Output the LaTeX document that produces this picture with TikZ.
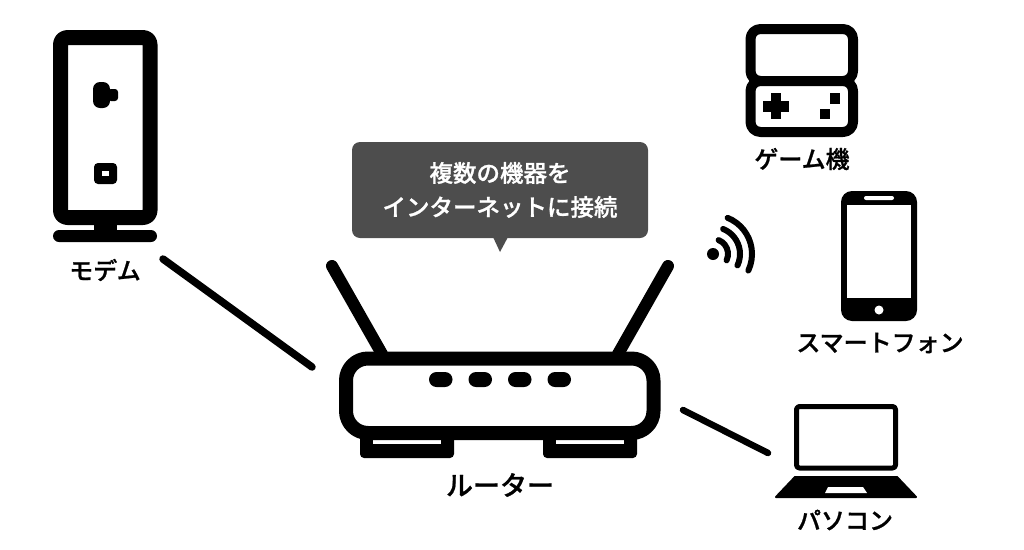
\documentclass[tikz,border=0pt]{standalone}
\usepackage{fontspec}
\newfontfamily\jp[FakeBold=0.9]{Noto Sans CJK JP Medium}
\tikzset{
  lbl/.style={font=\jp\fontsize{24}{24}\selectfont, text=black, inner sep=0pt, anchor=center},
  bub/.style={font=\jp\fontsize{23.5}{24}\selectfont, text=white, inner sep=0pt, anchor=center},
  conn/.style={line width=7.5pt, line cap=round},
  antenna/.style={line width=12pt, line cap=round},
  outline/.style={draw=black, fill=white, line join=round},
  wave/.style={line width=6pt, line cap=round}
}
\definecolor{bubblegray}{HTML}{4D4D4D}
\begin{document}
\begin{tikzpicture}[x=1pt,y=-1pt]
\useasboundingbox (0,0) rectangle (1024,549);
% Modem
\fill[rounded corners=6pt] (53,230) rectangle (157,242);
\fill (94,222) rectangle (117,232);
\draw[outline, line width=15pt, rounded corners=7pt] (60.5,37.5) rectangle (150,217.5);
\fill[rounded corners=3pt] (108,89) rectangle (118,101);
\fill[rounded corners=7pt] (93,82) rectangle (110,108);
\fill[rounded corners=4pt] (94,163) rectangle (117,184);
\fill[white] (102,171) rectangle (109,176);
\node[lbl] (modem) at (105,270) {モデム};
% Router
\draw[antenna] (332,266) -- (382,354);
\draw[antenna] (668,266) -- (618,354);
\foreach \a/\b in {360/454,543/637}{
  \fill[rounded corners=4pt] (\a,430) rectangle (\b,458);
}
\fill[white] (373,440) rectangle (441,444);
\fill[white] (556,440) rectangle (624,444);
\draw[outline, line width=14pt, rounded corners=22pt] (346,358.5) rectangle (653.5,433);
\foreach \a in {429,468.5,508,547.5}{
  \fill[rounded corners=7.5pt] (\a,372) rectangle (\a+23.5,387);
}
\node[lbl, font=\jp\fontsize{27}{27}\selectfont] (router) at (500,485) {ルーター};
% Connectors
\coordinate (modemEnd) at (163,259);
\coordinate (routerL) at (312,367);
\coordinate (routerR) at (683,410);
\coordinate (pcEnd) at (768,453);
\draw[conn] (modemEnd) -- (routerL);
\draw[conn, line width=6.5pt] (routerR) -- (pcEnd);
% Bubble
\fill[bubblegray, rounded corners=8pt] (352,142) rectangle (648,238);
\fill[bubblegray] (493,237) -- (508,237) -- (500,252) -- cycle;
\node[bub] (b1) at (500,173) {複数の機器を};
\node[bub] (b2) at (500,207) {インターネットに接続};
% Game
\draw[outline, line width=10pt, rounded corners=10pt] (750.5,29) rectangle (853,81);
\draw[outline, line width=10pt, rounded corners=10pt] (750.5,81) rectangle (853,132);
\fill (771,93) rectangle (781,119);
\fill (763,101) rectangle (789,112);
\fill (830,93) rectangle (840,104);
\fill (820,109) rectangle (830,119);
\node[lbl] (game) at (802,159) {ゲーム機};
% Phone
\fill[rounded corners=11pt] (841,191) rectangle (917,321);
\fill[white] (847,205) rectangle (911,298);
\fill[white, rounded corners=2pt] (864,196) rectangle (894,200);
\fill[white] (879,310) circle[radius=4.5pt];
\node[lbl] (phone) at (880,343) {スマートフォン};
% Wifi
\fill (713,254) circle[radius=6pt];
\draw[wave, x=1pt,y=1pt] (713,-254) ++(68:15) arc[start angle=68, end angle=-25, radius=15];
\draw[wave, x=1pt,y=1pt] (713,-254) ++(68:27) arc[start angle=68, end angle=-25, radius=27];
\draw[wave, x=1pt,y=1pt] (713,-254) ++(68:39) arc[start angle=68, end angle=-25, radius=39];
% Laptop
\draw[outline, line width=5pt, rounded corners=3pt] (796.5,406.5) rectangle (895.5,468);
\fill[line join=round, draw=black, line width=2pt] (795,477) -- (897,477) -- (916,497) -- (776,497) -- cycle;
\fill[white] (828,487) -- (863,487) -- (867,493) -- (825,493) -- cycle;
\node[lbl] (pc) at (845,520) {パソコン};
\end{tikzpicture}
\end{document}
